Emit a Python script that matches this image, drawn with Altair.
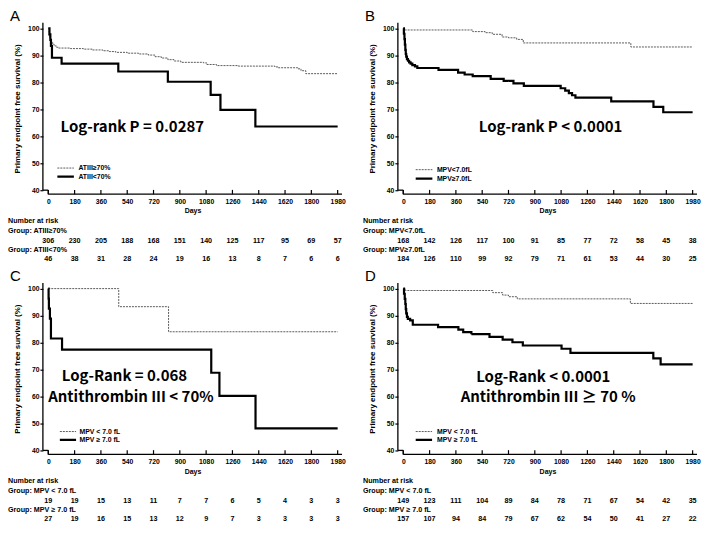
import altair as alt
import pandas as pd

TICKS = [0, 180, 360, 540, 720, 900, 1080, 1260, 1440, 1620, 1800, 1980]
Y_TICKS = [40, 50, 60, 70, 80, 90, 100]
Y_TITLE = "Primary endpoint free survival (%)"

# ---------------- Panel A ----------------
A_labels = ["ATIII≥70%", "ATIII<70%"]
A_g1_days = [0, 5, 10, 15, 22, 30, 40, 55, 70, 150, 240, 300, 373, 418, 462, 540, 618, 684, 730, 773, 818, 860, 907, 1062, 1084, 1151, 1300, 1551, 1573, 1707, 1729, 1762, 1980]
A_g1_surv = [100, 97.4, 96.4, 95.4, 94.8, 94.1, 93.5, 93.0, 92.7, 92.5, 92.3, 92.0, 91.7, 91.4, 91.1, 90.8, 90.5, 90.1, 89.5, 89.0, 88.4, 87.9, 87.4, 87.2, 86.6, 86.2, 86.0, 85.7, 85.4, 85.0, 84.3, 83.2, 83.1]
A_g2_days = [0, 8, 14, 18, 25, 91, 479, 818, 1111, 1178, 1417, 1980]
A_g2_surv = [100, 97.8, 95.7, 93.5, 89.1, 86.9, 84.0, 80.2, 75.3, 69.8, 63.6, 63.6]
A_risk1 = [306, 230, 205, 188, 168, 151, 140, 125, 117, 95, 69, 57]
A_risk2 = [46, 38, 31, 28, 24, 19, 16, 13, 8, 7, 6, 6]
A_notes = ["Log-rank P = 0.0287"]

# ---------------- Panel B ----------------
B_labels = ["MPV<7.0fL", "MPV≥7.0fL"]
B_g1_days = [0, 10, 475, 560, 609, 676, 720, 776, 821, 1557, 1980]
B_g1_surv = [100, 99.4, 98.8, 98.4, 97.8, 96.8, 96.5, 95.9, 94.6, 93.1, 93.1]
B_g2_days = [0, 4, 8, 11, 14, 17, 20, 25, 32, 40, 50, 62, 80, 96, 241, 375, 420, 475, 598, 687, 754, 825, 1077, 1108, 1133, 1155, 1178, 1423, 1712, 1779, 1980]
B_g2_surv = [100, 98.0, 96.0, 94.0, 92.0, 90.5, 89.5, 88.6, 88.0, 87.4, 86.9, 86.4, 85.9, 85.3, 84.6, 83.6, 82.9, 82.3, 81.3, 80.5, 79.6, 78.7, 77.8, 76.9, 76.0, 75.2, 74.3, 72.9, 70.9, 68.9, 68.9]
B_risk1 = [168, 142, 126, 117, 100, 91, 85, 77, 72, 58, 45, 38]
B_risk2 = [184, 126, 110, 99, 92, 79, 71, 61, 53, 44, 30, 25]
B_notes = ["Log-rank P < 0.0001"]

# ---------------- Panel C ----------------
C_labels = ["MPV < 7.0 fL", "MPV ≥ 7.0 fL"]
C_g1_days = [0, 482, 823, 1980]
C_g1_surv = [100, 93.3, 84.0, 84.0]
C_g2_days = [0, 2, 4, 11, 18, 94, 1115, 1171, 1418, 1980]
C_g2_surv = [100, 96.3, 92.6, 88.9, 81.5, 77.4, 68.8, 60.2, 48.2, 48.2]
C_risk1 = [19, 19, 15, 13, 11, 7, 7, 6, 5, 4, 3, 3]
C_risk2 = [27, 19, 16, 15, 13, 12, 9, 7, 3, 3, 3, 3]
C_notes = ["Log-Rank = 0.068", "Antithrombin III < 70%"]

# ---------------- Panel D ----------------
D_labels = ["MPV < 7.0 fL", "MPV ≥ 7.0 fL"]
D_g1_days = [0, 15, 612, 680, 720, 780, 1554, 1980]
D_g1_surv = [100, 99.3, 98.5, 97.6, 97.0, 96.2, 94.5, 94.5]
D_g2_days = [0, 5, 10, 14, 17, 20, 25, 31, 47, 65, 238, 377, 410, 466, 590, 680, 747, 818, 1083, 1144, 1711, 1761, 1980]
D_g2_surv = [100, 98.1, 96.2, 94.3, 92.4, 90.8, 89.5, 88.8, 88.2, 86.6, 85.7, 84.8, 83.9, 83.1, 82.1, 81.1, 80.1, 78.9, 77.7, 76.2, 74.1, 71.9, 71.9]
D_risk1 = [149, 123, 111, 104, 89, 84, 78, 71, 67, 54, 42, 35]
D_risk2 = [157, 107, 94, 84, 79, 67, 62, 54, 50, 41, 27, 22]
D_notes = ["Log-Rank < 0.0001", "Antithrombin III ≥ 70 %"]

# ---------------- layout / style ----------------
W, H = 300, 172
XD = [-37, 2010]
YD = [38.5, 102.1]
FONT = "Liberation Sans"
BIG = "Noto Sans CJK KR"
SMALL = 6.8

AX_X = alt.Axis(
    values=TICKS, format="d", domain=False, ticks=False, grid=False, labelPadding=4,
    labelFont=FONT, labelFontSize=SMALL, labelFontWeight="bold", labelColor="black",
    labelFlush=False, labelOverlap=False, title="Days", titleFont=FONT, titleFontSize=7,
    titleFontWeight="bold", titleColor="black", titlePadding=2)
AX_Y = alt.Axis(
    values=Y_TICKS, format="d", domain=False, grid=False, tickSize=3, tickColor="black", tickWidth=1.2,
    labelPadding=1, labelFont=FONT, labelFontSize=SMALL, labelFontWeight="bold",
    labelColor="black", title=Y_TITLE, titleFont=FONT, titleFontSize=8,
    titleFontWeight="bold", titleColor="black", titlePadding=6)


def panel(letter, labels, d1, s1, d2, s2, r1, r2, notes, note_pos, leg_pos):
    xs = alt.Scale(domain=XD, nice=False, zero=False)
    ys = alt.Scale(domain=YD, nice=False, zero=False)
    cscale = alt.Scale(domain=labels, range=["#4a4a4a", "#000000"])
    dscale = alt.Scale(domain=labels, range=[[2, 1], [1, 0]])
    wscale = alt.Scale(domain=labels, range=[0.9, 2.2])

    def X(f):
        return alt.X(f, type="quantitative", scale=xs, axis=AX_X)

    def Y(f):
        return alt.Y(f, type="quantitative", scale=ys, axis=AX_Y)

    km = pd.concat([
        pd.DataFrame({"day": d1, "surv": s1, "group": labels[0]}),
        pd.DataFrame({"day": d2, "surv": s2, "group": labels[1]}),
    ])
    curves = alt.Chart(km).mark_line(interpolate="step-after").encode(
        x=X("day"), y=Y("surv"),
        color=alt.Color("group:N", scale=cscale, legend=None),
        strokeDash=alt.StrokeDash("group:N", scale=dscale, legend=None),
        strokeWidth=alt.StrokeWidth("group:N", scale=wscale, legend=None),
        detail="group:N",
    )

    # axis frame (SigmaPlot-style broken corner)
    vdf = pd.DataFrame({"day": [XD[0], 0], "surv": [40, YD[0]], "surv2": [YD[1], 40]})
    vlines = alt.Chart(vdf).mark_rule(color="black", strokeWidth=1.3).encode(
        x=X("day"), y=Y("surv"), y2="surv2")
    hdf = pd.DataFrame({"day": [XD[0], 0], "day2": [0, XD[1]], "surv": [40, YD[0]]})
    hlines = alt.Chart(hdf).mark_rule(color="black", strokeWidth=1.3).encode(
        x=X("day"), x2="day2", y=Y("surv"))

    tick_df = pd.DataFrame({"day": TICKS, "surv": YD[0], "surv2": 40.1})
    xticks = alt.Chart(tick_df).mark_rule(color="black", strokeWidth=1.2).encode(
        x=X("day"), y=Y("surv"), y2="surv2")

    # legend drawn inside plot
    lx1, lx2, lxt, ly = leg_pos
    leg_df = pd.DataFrame({"day": [lx1, lx1], "day2": [lx2, lx2], "dayt": [lxt, lxt], "surv": ly, "group": labels})
    leg_lines = alt.Chart(leg_df).mark_rule().encode(
        x=X("day"), x2="day2", y=Y("surv"),
        color=alt.Color("group:N", scale=cscale, legend=None),
        strokeDash=alt.StrokeDash("group:N", scale=dscale, legend=None),
        strokeWidth=alt.StrokeWidth("group:N", scale=wscale, legend=None),
    )
    leg_text = alt.Chart(leg_df).mark_text(
        align="left", baseline="middle", font=FONT, fontSize=6.9, fontWeight="bold", color="black"
    ).encode(x=X("dayt"), y=Y("surv"), text="group:N")

    # annotations
    note_df = pd.DataFrame({"day": [p[0] for p in note_pos], "surv": [p[1] for p in note_pos], "t": notes})
    note = alt.Chart(note_df).mark_text(
        align="center", baseline="middle", font=BIG, fontSize=15, fontWeight="bold", color="black"
    ).encode(x=X("day"), y=Y("surv"), text="t:N")

    letter_mark = alt.Chart(pd.DataFrame({"t": [letter]})).mark_text(
        align="left", baseline="top", font=FONT, fontSize=15, color="black"
    ).encode(x=alt.value(-33), y=alt.value(-14), text="t:N")

    def row_label(text, ypx):
        return alt.Chart(pd.DataFrame({"t": [text]})).mark_text(
            align="left", baseline="middle", font=FONT, fontSize=7.2, fontWeight="bold", color="black"
        ).encode(x=alt.value(-35), y=alt.value(ypx), text="t:N")

    def row_nums(vals, ypx):
        return alt.Chart(pd.DataFrame({"day": TICKS, "n": [str(v) for v in vals]})).mark_text(
            align="center", baseline="middle", font=FONT, fontSize=7.2, fontWeight="bold", color="black"
        ).encode(x=X("day"), y=alt.value(ypx), text="n:N")

    layers = [
        curves, vlines, hlines, xticks, leg_lines, leg_text, note, letter_mark,
        row_label("Number at risk", H + 27),
        row_label("Group: " + labels[0], H + 37),
        row_nums(r1, H + 47),
        row_label("Group: " + labels[1], H + 56),
        row_nums(r2, H + 65),
    ]
    return alt.layer(*layers).properties(width=W, height=H)


pA = panel("A", A_labels, A_g1_days, A_g1_surv, A_g2_days, A_g2_surv, A_risk1, A_risk2,
           A_notes, [(575, 63.5)], (62, 175, 206, [48.2, 45.0]))
pB = panel("B", B_labels, B_g1_days, B_g1_surv, B_g2_days, B_g2_surv, B_risk1, B_risk2,
           B_notes, [(1008, 63.5)], (85, 199, 230, [47.6, 44.3]))
pC = panel("C", C_labels, C_g1_days, C_g1_surv, C_g2_days, C_g2_surv, C_risk1, C_risk2,
           C_notes, [(521, 67.6), (565, 59.9)], (79, 190, 213, [47.0, 43.9]))
pD = panel("D", D_labels, D_g1_days, D_g1_surv, D_g2_days, D_g2_surv, D_risk1, D_risk2,
           D_notes, [(958, 67.3), (991, 59.9)], (85, 197, 231, [47.0, 43.9]))

RES = dict(x="independent", y="independent", color="independent",
           strokeDash="independent", strokeWidth="independent")

top = alt.hconcat(pA, pB, spacing=17).resolve_scale(**RES)
bottom = alt.hconcat(pC, pD, spacing=17).resolve_scale(**RES)
chart = alt.vconcat(top, bottom, spacing=6).resolve_scale(**RES).properties(
    padding=0, background="white"
).configure_view(stroke=None)

chart.save("out.html", embed_options={"renderer": "svg", "actions": False})
